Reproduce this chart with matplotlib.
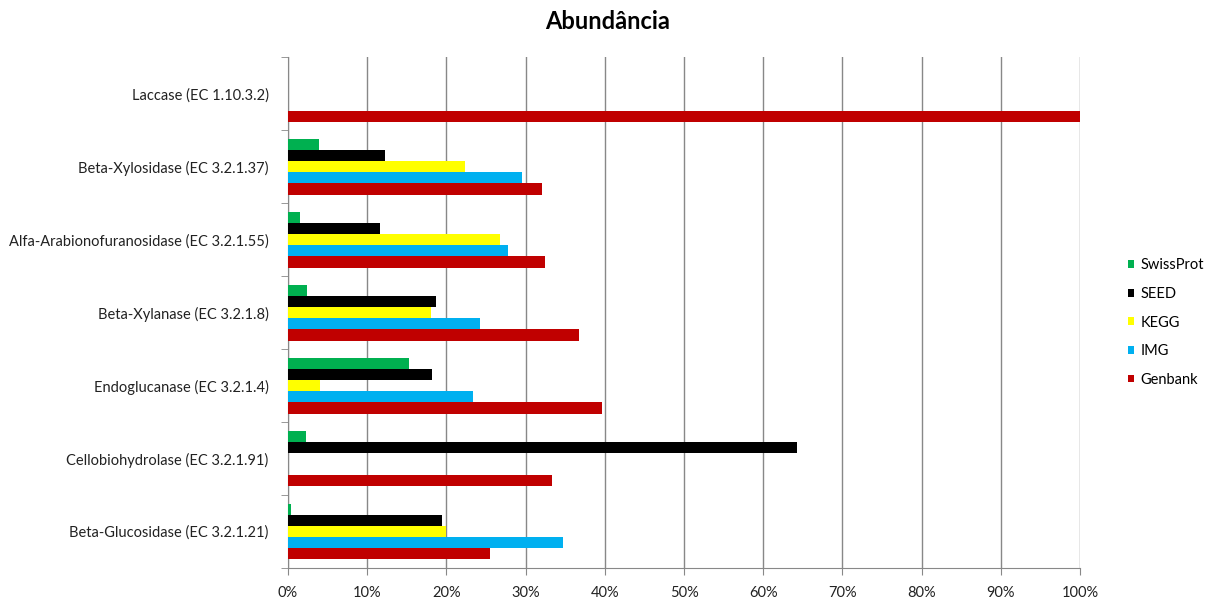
import numpy as np
import matplotlib.pyplot as plt
from matplotlib.ticker import PercentFormatter, FixedLocator

plt.rcParams['font.family'] = ['Lato', 'DejaVu Sans']

# categories listed bottom to top
enzimas = [
    'Beta-Glucosidase (EC 3.2.1.21)',
    'Cellobiohydrolase (EC 3.2.1.91)',
    'Endoglucanase (EC 3.2.1.4)',
    'Beta-Xylanase (EC 3.2.1.8)',
    'Alfa-Arabionofuranosidase (EC 3.2.1.55)',
    'Beta-Xylosidase (EC 3.2.1.37)',
    'Laccase (EC 1.10.3.2)',
]

swissprot = [0.35, 2.3, 15.3, 2.4, 1.5, 3.9, 0]
seed = [19.4, 64.2, 18.2, 18.7, 11.6, 12.2, 0]
kegg = [20.0, 0, 4.0, 18.1, 26.8, 22.4, 0]
img = [34.7, 0, 23.3, 24.2, 27.8, 29.5, 0]
genbank = [25.5, 33.3, 39.6, 36.8, 32.4, 32.1, 100]

series = [
    ('SwissProt', swissprot, '#00B050'),
    ('SEED', seed, '#000000'),
    ('KEGG', kegg, '#FFFF00'),
    ('IMG', img, '#00B0F0'),
    ('Genbank', genbank, '#C00000'),
]

fig = plt.figure(figsize=(12.15, 6.03), dpi=100)
ax = fig.add_axes([0.237, 0.058, 0.652, 0.847])

y = np.arange(len(enzimas))
h = 0.153
for i, (nome, vals, cor) in enumerate(series):
    ax.barh(y + (2 - i) * h, vals, height=h, color=cor, label=nome, zorder=3)

ax.set_xlim(0, 100)
ax.set_ylim(-0.5, len(enzimas) - 0.5)
ax.set_xticks(np.arange(0, 101, 10))
ax.xaxis.set_major_formatter(PercentFormatter(decimals=0))
ax.set_yticks(y)
ax.set_yticklabels(enzimas)
ax.yaxis.set_minor_locator(FixedLocator(np.arange(-0.5, len(enzimas), 1)))
ax.tick_params(axis='y', which='major', length=0, pad=14, labelsize=10.5, colors='#222222')
ax.tick_params(axis='y', which='minor', length=5, color='#888888')
ax.tick_params(axis='x', length=5, color='#888888', labelcolor='#222222',
               labelsize=10.5, pad=8)

ax.grid(axis='x', color='#888888', linewidth=1, zorder=0)
for s in ['top', 'right']:
    ax.spines[s].set_visible(False)
ax.spines['left'].set_color('#888888')
ax.spines['bottom'].set_color('#888888')

fig.text(0.5, 0.965, 'Abundância', ha='center', va='center',
         fontsize=17, fontweight='bold')

leg = fig.legend(loc='center left', bbox_to_anchor=(0.928, 0.465), frameon=False,
                 fontsize=10.5, handlelength=0.45, handleheight=0.45,
                 handletextpad=0.45, labelspacing=1.0,
                 borderpad=0, borderaxespad=0)

fig.savefig('out.png', dpi=100)
